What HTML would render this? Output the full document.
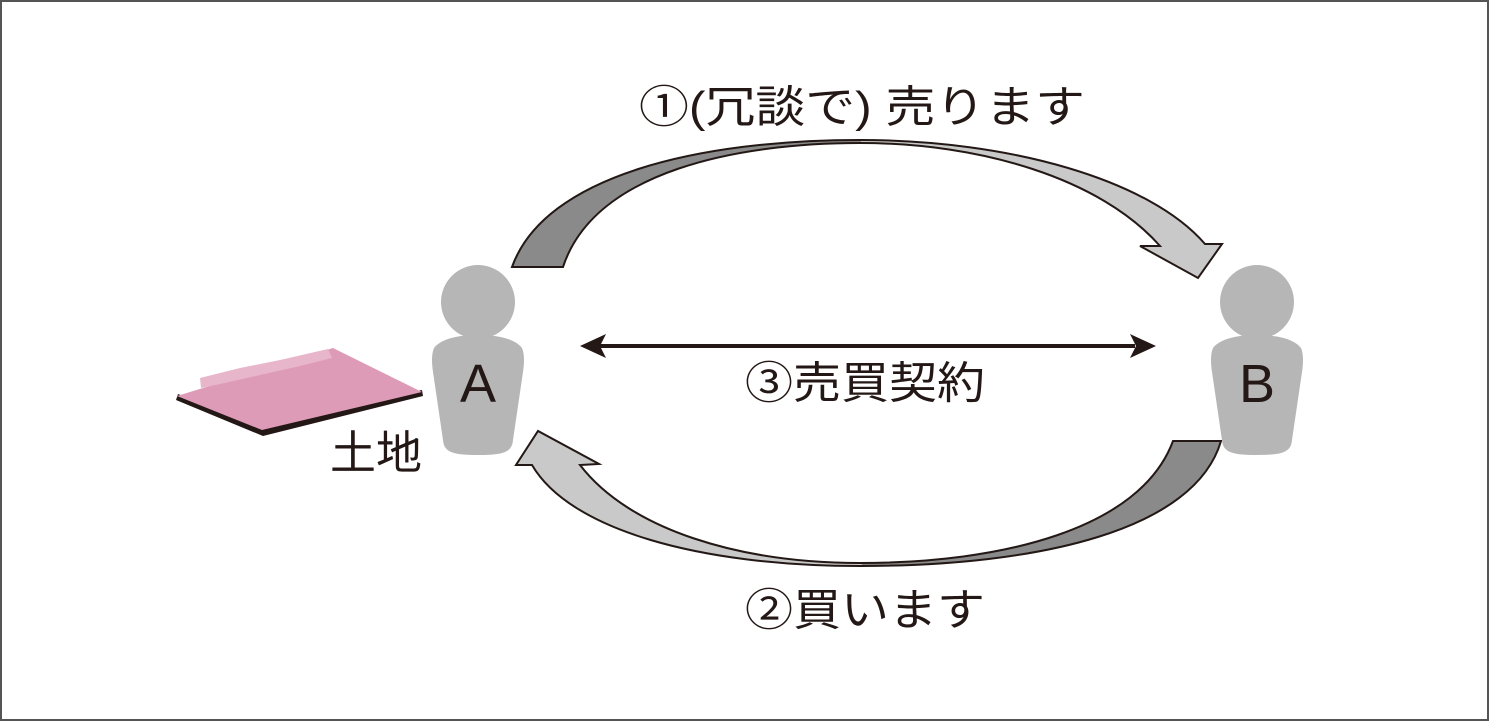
<!DOCTYPE html>
<html><head><meta charset="utf-8"><style>
body{margin:0;background:#fff}
svg{display:block}
text{font-family:"Liberation Sans","Noto Sans CJK JP",sans-serif;fill:#231815}
</style></head><body>
<svg width="1489" height="721" viewBox="0 0 1489 721" xmlns="http://www.w3.org/2000/svg">
<defs>
<linearGradient id="gt" gradientUnits="userSpaceOnUse" x1="514" x2="1222" y1="0" y2="0">
<stop offset="0.49" stop-color="#898a89"/><stop offset="0.49" stop-color="#c8c9c8"/></linearGradient>
<linearGradient id="gb" gradientUnits="userSpaceOnUse" x1="516" x2="1222" y1="0" y2="0">
<stop offset="0.49" stop-color="#c8c9c8"/><stop offset="0.49" stop-color="#898a89"/></linearGradient>
</defs>
<rect x="1" y="1" width="1487" height="719" fill="#fff" stroke="#555" stroke-width="2"/>
<path d="M512,267 C545,175 700,140 860,140 C1010,140 1150,180 1205,244 L1222,244 L1198,278 L1140,246 L1160,246 C1100,178 980,143 860,143 C740,143 595,170 563,267 Z" fill="url(#gt)" stroke="#231815" stroke-width="2"/>
<path d="M1221,441 C1195,530 1040,566 860,566 C700,566 570,530 532,465 L516,465 L538,431 L599,464 L580,465 C630,530 740,563 860,563 C1000,563 1140,530 1173,441 Z" fill="url(#gb)" stroke="#231815" stroke-width="2"/>
<line x1="600" y1="346" x2="1135" y2="346" stroke="#231815" stroke-width="4"/>
<polygon points="580,346 606,334 600,346 606,358" fill="#231815"/>
<polygon points="1156,346 1130,334 1136,346 1130,358" fill="#231815"/>
<g fill="#b5b6b5">
<circle cx="478" cy="302" r="37"/>
<path d="M478,335 C455,335 440,340 434,348 C431,355 432,365 433,372 L443,440 C444,452 452,455 478,455 C504,455 512,452 513,440 L523,372 C524,365 525,355 522,348 C516,340 501,335 478,335 Z"/>
<circle cx="1257" cy="302" r="37"/>
<path d="M1257,335 C1234,335 1219,340 1213,348 C1210,355 1211,365 1212,372 L1222,440 C1223,452 1231,455 1257,455 C1283,455 1291,452 1292,440 L1302,372 C1303,365 1304,355 1301,348 C1295,340 1280,335 1257,335 Z"/>
</g>
<text x="478" y="402" font-size="54" text-anchor="middle">A</text>
<text x="1257" y="402" font-size="54" text-anchor="middle">B</text>
<polygon points="176,400 263,436 423,396 422,390 263,428 178,394" fill="#231815"/>
<polygon points="177,396 333,348 422,392 262,430" fill="#de9bb7"/>
<path d="M201,388 L200,378 L240,368 L280,360 L328,349 L332,358 L300,366 L260,375 L220,384 Z" fill="#e8b6cb"/>
<text x="330" y="469" font-size="46">土地</text>
<text x="639" y="122" font-size="44" textLength="446" lengthAdjust="spacingAndGlyphs">①(冗談で)  売ります</text>
<text x="745" y="398" font-size="44" textLength="240" lengthAdjust="spacingAndGlyphs">③売買契約</text>
<text x="745" y="625" font-size="44" textLength="240" lengthAdjust="spacingAndGlyphs">②買います</text>
</svg>
</body></html>
